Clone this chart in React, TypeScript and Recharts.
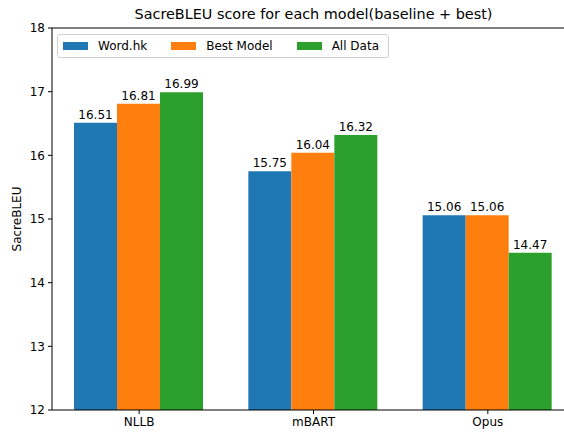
import { BarChart, Bar, XAxis, YAxis, LabelList, ReferenceLine, Label } from "recharts"

const models = ["NLLB", "mBART", "Opus"]
const wordHk = [16.51, 15.75, 15.06]
const bestModel = [16.81, 16.04, 15.06]
const allData = [16.99, 16.32, 14.47]
const yTicks = [12, 13, 14, 15, 16, 17, 18]

const series = [
  { key: "wordHk", name: "Word.hk", color: "#1f77b4" },
  { key: "best", name: "Best Model", color: "#ff7f0e" },
  { key: "all", name: "All Data", color: "#2ca02c" },
]

const data = models.map((m, i) => ({
  model: m,
  wordHk: wordHk[i],
  best: bestModel[i],
  all: allData[i],
}))

const FONT = "'DejaVu Sans', sans-serif"

function LegendBox() {
  return (
    <div
      style={{
        position: "absolute",
        left: 57,
        top: 34,
        display: "flex",
        alignItems: "center",
        border: "1px solid #d0d0d0",
        borderRadius: 3,
        background: "rgba(255,255,255,0.8)",
        padding: "4px 9px 4px 5px",
        fontFamily: FONT,
        fontSize: 12,
        color: "#000",
      }}
    >
      {series.map((s, i) => (
        <div key={s.key} style={{ display: "flex", alignItems: "center", marginLeft: i ? 24 : 0 }}>
          <span style={{ width: 25, height: 8, background: s.color, display: "inline-block", marginRight: 10 }} />
          <span>{s.name}</span>
        </div>
      ))}
    </div>
  )
}

function YTitle(props: any) {
  const vb = props.viewBox
  const x = vb.x + 17
  const y = vb.y + vb.height / 2
  return (
    <text x={x} y={y} transform={`rotate(-90 ${x} ${y})`} textAnchor="middle" dominantBaseline="central" fontSize={12} fill="#000" fontFamily={FONT}>
      SacreBLEU
    </text>
  )
}

export default function App() {
  return (
    <div style={{ position: "absolute", left: 0, top: 0, width: 564, height: 433, overflow: "hidden", background: "#fff" }}>
      <BarChart
        width={580}
        height={433}
        data={data}
        margin={{ top: 28, right: 5, left: 0, bottom: 0 }}
        barCategoryGap={22}
        barGap={0}
        style={{ position: "absolute", left: 0, top: 0 }}
      >
        <XAxis
          dataKey="model"
          height={23}
          tick={{ fill: "#000", fontSize: 12, fontFamily: FONT }}
          tickSize={4}
          tickMargin={3}
          axisLine={{ stroke: "#000" }}
          tickLine={{ stroke: "#000" }}
        />
        <YAxis
          width={52}
          domain={[12, 18]}
          ticks={yTicks}
          allowDataOverflow
          tick={{ fill: "#000", fontSize: 12, fontFamily: FONT }}
          tickSize={4}
          tickMargin={3}
          axisLine={{ stroke: "#000" }}
          tickLine={{ stroke: "#000" }}
        >
          <Label content={<YTitle />} />
        </YAxis>
        <ReferenceLine y={18} stroke="#000" ifOverflow="visible" />
        {series.map((s) => (
          <Bar key={s.key} dataKey={s.key} name={s.name} fill={s.color} isAnimationActive={false}>
            <LabelList
              dataKey={s.key}
              position="top"
              offset={4}
              fill="#000"
              fontSize={12}
              fontFamily={FONT}
              formatter={(v: any) => Number(v).toFixed(2)}
            />
          </Bar>
        ))}
      </BarChart>
      <div
        style={{
          position: "absolute",
          left: 52,
          width: 523,
          top: 5,
          textAlign: "center",
          fontFamily: FONT,
          fontSize: 14.4,
          color: "#000",
          lineHeight: "18px",
        }}
      >
        SacreBLEU score for each model(baseline + best)
      </div>
      <LegendBox />
    </div>
  )
}
